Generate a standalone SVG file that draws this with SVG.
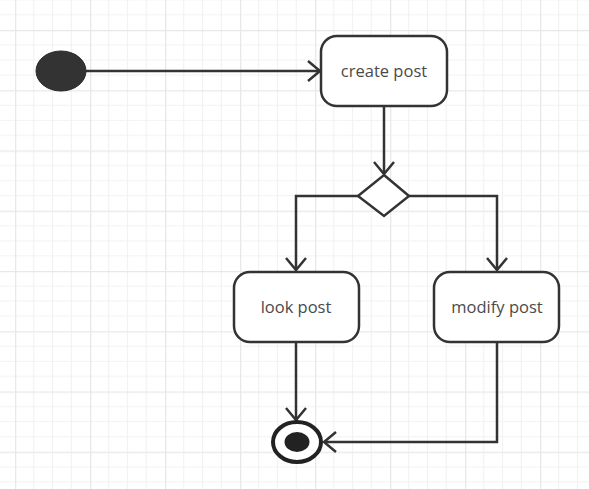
<svg xmlns="http://www.w3.org/2000/svg" width="589" height="489" viewBox="0 0 589 489">
<style>
.node{fill:#fff;stroke:#333;stroke-width:2.5}
.lbl{font-family:"Open Sans","Noto Sans",sans-serif;font-size:16.5px;fill:#4a4a4a;text-anchor:middle;dominant-baseline:central}
.edge{fill:none;stroke:#333;stroke-width:2.5}
</style>
<defs>
<pattern id="grid" patternUnits="userSpaceOnUse" x="15" y="30" width="75" height="60.25">
<path d="M18.75,0V60.25M37.5,0V60.25M56.25,0V60.25M0,15.06H75M0,30.12H75M0,45.19H75" stroke="#f2f2f2" stroke-width="1.2" fill="none"/>
<path d="M0.5,0V60.25M0,0.5H75" stroke="#e8e8e8" stroke-width="1.6" fill="none"/>
</pattern>
<marker id="arr" markerUnits="userSpaceOnUse" markerWidth="30" markerHeight="30" viewBox="-15 -15 30 30" refX="0" refY="0" orient="auto">
<path d="M-12,-10 L0,0 L-12,10" fill="none" stroke="#333" stroke-width="2.5"/>
</marker>
</defs>
<rect width="589" height="489" fill="#fff"/>
<rect width="589" height="489" fill="url(#grid)"/>
<g id="connectors">
<path class="edge" d="M86,71 H320" marker-end="url(#arr)"/>
<path class="edge" d="M384,106 V174" marker-end="url(#arr)"/>
<path class="edge" d="M358,196 H296 V270" marker-end="url(#arr)"/>
<path class="edge" d="M409,196 H497 V270" marker-end="url(#arr)"/>
<path class="edge" d="M296,342 V420" marker-end="url(#arr)"/>
<path class="edge" d="M497,342 V442 H324" marker-end="url(#arr)"/>
</g>
<g id="start">
<ellipse cx="61" cy="71" rx="25" ry="20" fill="#333" stroke="#2a2a2a" stroke-width="1"/>
</g>
<g id="create-post">
<rect class="node" x="321" y="36" width="126" height="70" rx="16"/>
<text class="lbl" x="384" y="70">create post</text>
</g>
<g id="decision">
<polygon class="node" points="384,175 409,196 384,216 358,196"/>
</g>
<g id="look-post">
<rect class="node" x="234" y="272" width="125" height="70" rx="16"/>
<text class="lbl" x="296" y="306">look post</text>
</g>
<g id="modify-post">
<rect class="node" x="434" y="272" width="125" height="70" rx="16"/>
<text class="lbl" x="497" y="306">modify post</text>
</g>
<g id="end">
<ellipse cx="297" cy="442" rx="24" ry="20" fill="#fff" stroke="#222" stroke-width="4"/>
<ellipse cx="297" cy="442" rx="12.5" ry="10" fill="#222"/>
</g>
</svg>
